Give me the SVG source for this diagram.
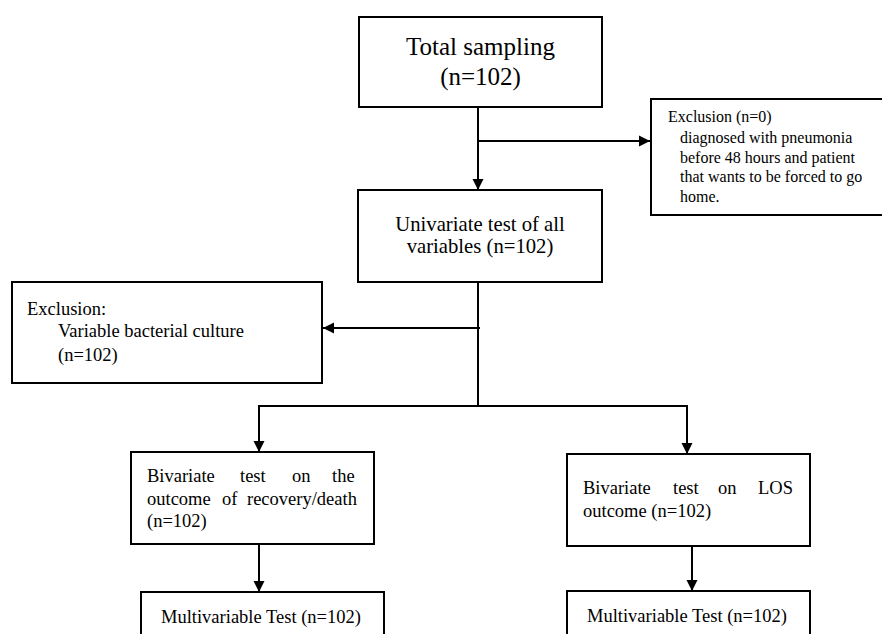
<svg xmlns="http://www.w3.org/2000/svg" width="882" height="634" viewBox="0 0 882 634">
<style>
.box{fill:#fff;stroke:#000;stroke-width:2}
.ln{fill:none;stroke:#000;stroke-width:2}
text{font-family:"Liberation Serif","Times New Roman",serif;fill:#000}
.t24{font-size:25px}
.t20{font-size:20.7px}
.t18{font-size:18.5px}
.t16{font-size:16px}
</style>
<defs>
<marker id="ah" markerUnits="userSpaceOnUse" markerWidth="12" markerHeight="12" refX="11" refY="6" orient="auto">
<path d="M0,0.5 L11,6 L0,11.5 z" fill="#000"/>
</marker>
</defs>
<rect width="882" height="634" fill="#fff"/>
<g id="connectors">
<line class="ln" x1="478" y1="107" x2="478" y2="190" marker-end="url(#ah)"/>
<line class="ln" x1="478" y1="141" x2="650" y2="141" marker-end="url(#ah)"/>
<line class="ln" x1="478" y1="282" x2="478" y2="407"/>
<line class="ln" x1="480" y1="328" x2="323" y2="328" marker-end="url(#ah)"/>
<line class="ln" x1="258" y1="406" x2="688" y2="406"/>
<line class="ln" x1="259" y1="405" x2="259" y2="452" marker-end="url(#ah)"/>
<line class="ln" x1="687" y1="405" x2="687" y2="454" marker-end="url(#ah)"/>
<line class="ln" x1="259" y1="544" x2="259" y2="592" marker-end="url(#ah)"/>
<line class="ln" x1="692" y1="546" x2="692" y2="591" marker-end="url(#ah)"/>
</g>
<g id="total">
<rect class="box" x="359" y="17" width="243" height="90"/>
<text class="t24" x="480.5" y="55" text-anchor="middle">Total sampling</text>
<text class="t24" x="480.5" y="85" text-anchor="middle">(n=102)</text>
</g>
<g id="exclusion1">
<rect class="box" x="651" y="99" width="240" height="116"/>
<text class="t16" x="668" y="122">Exclusion (n=0)</text>
<text class="t16" x="680" y="143">diagnosed with pneumonia</text>
<text class="t16" x="680" y="163">before 48 hours and patient</text>
<text class="t16" x="680" y="182">that wants to be forced to go</text>
<text class="t16" x="680" y="202">home.</text>
</g>
<g id="univariate">
<rect class="box" x="358" y="190" width="244" height="92"/>
<text class="t20" x="480" y="231" text-anchor="middle">Univariate test of all</text>
<text class="t20" x="480" y="253" text-anchor="middle">variables (n=102)</text>
</g>
<g id="exclusion2">
<rect class="box" x="12" y="282" width="310" height="101"/>
<text class="t18" x="27" y="315">Exclusion:</text>
<text class="t18" x="58" y="337">Variable bacterial culture</text>
<text class="t18" x="58" y="361">(n=102)</text>
</g>
<g id="bivariate1">
<rect class="box" x="131" y="452" width="243" height="92"/>
<text class="t18" y="482"><tspan x="147">Bivariate</tspan><tspan x="240">test</tspan><tspan x="292">on</tspan><tspan x="332">the</tspan></text>
<text class="t18" y="505"><tspan x="147">outcome</tspan><tspan x="222">of</tspan><tspan x="247">recovery/death</tspan></text>
<text class="t18" x="147" y="527">(n=102)</text>
</g>
<g id="bivariate2">
<rect class="box" x="567" y="454" width="243" height="92"/>
<text class="t18" y="494"><tspan x="583">Bivariate</tspan><tspan x="673">test</tspan><tspan x="718">on</tspan><tspan x="758">LOS</tspan></text>
<text class="t18" x="583" y="517">outcome (n=102)</text>
</g>
<g id="multi1">
<rect class="box" x="141" y="592" width="243" height="60"/>
<text class="t18" x="161" y="623">Multivariable Test (n=102)</text>
</g>
<g id="multi2">
<rect class="box" x="567" y="591" width="243" height="60"/>
<text class="t18" x="587" y="622">Multivariable Test (n=102)</text>
</g>
</svg>
